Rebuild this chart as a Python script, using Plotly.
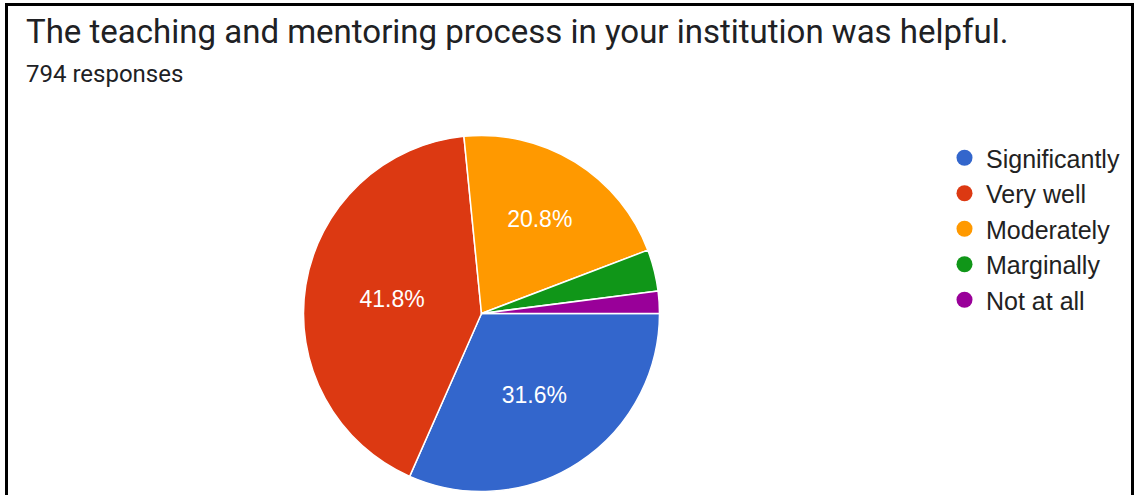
import plotly.graph_objects as go

categories = ["Significantly", "Very well", "Moderately", "Marginally", "Not at all"]
counts = [251, 332, 165, 30, 16]
colors = ["#3366CC", "#DC3912", "#FF9900", "#109618", "#990099"]
show_label = [True, True, True, False, False]

W, H = 1134, 495
cx, cy, r = 481.5, 313.5, 178

fig = go.Figure()
fig.add_trace(go.Pie(
    labels=categories, values=counts, sort=False, direction="clockwise", rotation=90,
    marker=dict(colors=colors, line=dict(color="white", width=1.5)),
    texttemplate=["%{percent:.1%}" if s else "" for s in show_label],
    textposition="inside", insidetextorientation="horizontal",
    textfont=dict(family="Arial, Liberation Sans, sans-serif", size=23, color="white"),
    showlegend=False, hoverinfo="label+percent",
    domain=dict(x=[(cx - r) / W, (cx + r) / W], y=[(H - cy - r) / H, (H - cy + r) / H]),
))

for i, (name, col) in enumerate(zip(categories, colors)):
    fig.add_trace(go.Scatter(
        x=[None], y=[None], mode="markers", name=name,
        marker=dict(symbol="circle", size=16, color=col),
        legendgroup=f"g{i}", showlegend=True, hoverinfo="skip",
    ))

fig.update_layout(
    width=W, height=H,
    margin=dict(l=0, r=0, t=0, b=0),
    paper_bgcolor="white", plot_bgcolor="white",
    xaxis=dict(visible=False), yaxis=dict(visible=False),
    legend=dict(
        x=943 / W, y=1 - 135 / H, xanchor="left", yanchor="top",
        font=dict(family="Arial, Liberation Sans, sans-serif", size=25, color="#222222"),
        tracegroupgap=0, itemwidth=33, bgcolor="rgba(0,0,0,0)",
    ),
    annotations=[
        dict(text="The teaching and mentoring process in your institution was helpful.",
             x=24 / W, y=1 - 10 / H, xref="paper", yref="paper", xanchor="left", yanchor="top",
             showarrow=False, font=dict(family="Roboto, Arial, sans-serif", size=33, color="#202124")),
        dict(text="794 responses",
             x=24 / W, y=1 - 58 / H, xref="paper", yref="paper", xanchor="left", yanchor="top",
             showarrow=False, font=dict(family="Roboto, Arial, sans-serif", size=24, color="#202124")),
    ],
    shapes=[dict(type="rect", xref="paper", yref="paper",
                 x0=6.5 / W, x1=1132.5 / W, y0=-0.05, y1=1 - 4.5 / H,
                 line=dict(color="black", width=3), fillcolor="rgba(0,0,0,0)")],
)

fig.write_html("out.html", config={"displayModeBar": False},
               post_script="document.body.style.margin='0';document.body.style.overflow='hidden';")
